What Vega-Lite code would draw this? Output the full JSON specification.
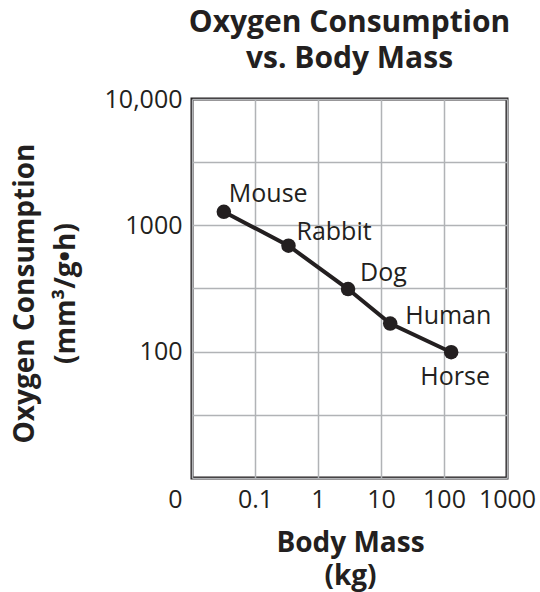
{
  "$schema": "https://vega.github.io/schema/vega-lite/v6.json",
  "autosize": {"type": "none"},
  "padding": {"left": 192, "top": 99, "right": 33, "bottom": 114},
  "width": 315,
  "height": 379,
  "background": "white",
  "config": {
    "font": "Open Sans",
    "view": {"stroke": "#231f20", "strokeWidth": 3},
    "axis": {"domain": false, "ticks": false, "gridColor": "#b1b3b6", "gridWidth": 1.5, "gridOpacity": 1, "labelColor": "#231f20", "titleColor": "#231f20", "labelFont": "Open Sans", "titleFont": "Open Sans"}
  },
  "title": {
    "text": ["Oxygen Consumption", "vs. Body Mass"],
    "font": "Open Sans",
    "fontSize": 30,
    "fontWeight": "bold",
    "lineHeight": 36,
    "color": "#231f20",
    "anchor": "middle",
    "offset": 13
  },
  "data": {
    "values": [
      {"animal": "Mouse", "mass": 0.032, "o2": 1280},
      {"animal": "Rabbit", "mass": 0.34, "o2": 690},
      {"animal": "Dog", "mass": 3, "o2": 313},
      {"animal": "Human", "mass": 14, "o2": 167},
      {"animal": "Horse", "mass": 130, "o2": 99}
    ]
  },
  "encoding": {
    "x": {
      "field": "mass",
      "type": "quantitative",
      "scale": {"type": "log", "domain": [0.01, 1000], "nice": false},
      "axis": {
        "values": [0.01, 0.1, 1, 10, 100, 1000],
        "labelExpr": "datum.value < 0.05 ? '0' : format(datum.value, '~g')",
        "labelFontSize": 25,
        "labelPadding": 9,
        "labelOffset": {"condition": {"test": "datum.value < 0.05", "value": -17}, "value": 0},
        "labelFlush": false,
        "labelOverlap": false,
        "title": ["Body Mass", "(kg)"],
        "titleFontSize": 28,
        "titleFontWeight": "bold",
        "titleLineHeight": 33,
        "titleBaseline": "alphabetic",
        "titleAnchor": "middle",
        "titleX": 158,
        "titleY": 73
      }
    },
    "y": {
      "field": "o2",
      "type": "quantitative",
      "scale": {"type": "log", "domain": [10, 10000], "nice": false},
      "axis": {
        "values": [10, 31.6228, 100, 316.228, 1000, 3162.28, 10000],
        "labelExpr": "datum.value == 100 ? '100' : datum.value == 1000 ? '1000' : datum.value == 10000 ? '10,000' : ''",
        "labelFontSize": 25,
        "labelPadding": 10,
        "labelFlush": false,
        "labelOverlap": false,
        "title": ["Oxygen Consumption", "(mm³/g•h)"],
        "titleFontSize": 28,
        "titleFontWeight": "bold",
        "titleLineHeight": 41,
        "titleAngle": -90,
        "titleAlign": "center",
        "titleBaseline": "alphabetic",
        "titleX": -159,
        "titleY": 194
      }
    }
  },
  "layer": [
    {"mark": {"type": "line", "color": "#231f20", "strokeWidth": 4}},
    {"mark": {"type": "point", "filled": true, "color": "#231f20", "opacity": 1, "size": 210}},
    {"transform": [{"filter": "datum.animal == 'Mouse'"}], "mark": {"type": "text", "align": "left", "baseline": "middle", "dx": 5, "dy": -18, "fontSize": 25, "color": "#231f20"}, "encoding": {"text": {"field": "animal"}}},
    {"transform": [{"filter": "datum.animal == 'Rabbit'"}], "mark": {"type": "text", "align": "left", "baseline": "middle", "dx": 8, "dy": -14, "fontSize": 25, "color": "#231f20"}, "encoding": {"text": {"field": "animal"}}},
    {"transform": [{"filter": "datum.animal == 'Dog'"}], "mark": {"type": "text", "align": "left", "baseline": "middle", "dx": 12, "dy": -16, "fontSize": 25, "color": "#231f20"}, "encoding": {"text": {"field": "animal"}}},
    {"transform": [{"filter": "datum.animal == 'Human'"}], "mark": {"type": "text", "align": "left", "baseline": "middle", "dx": 15, "dy": -8, "fontSize": 25, "color": "#231f20"}, "encoding": {"text": {"field": "animal"}}},
    {"transform": [{"filter": "datum.animal == 'Horse'"}], "mark": {"type": "text", "align": "center", "baseline": "middle", "dx": 4, "dy": 25, "fontSize": 25, "color": "#231f20"}, "encoding": {"text": {"field": "animal"}}}
  ]
}
